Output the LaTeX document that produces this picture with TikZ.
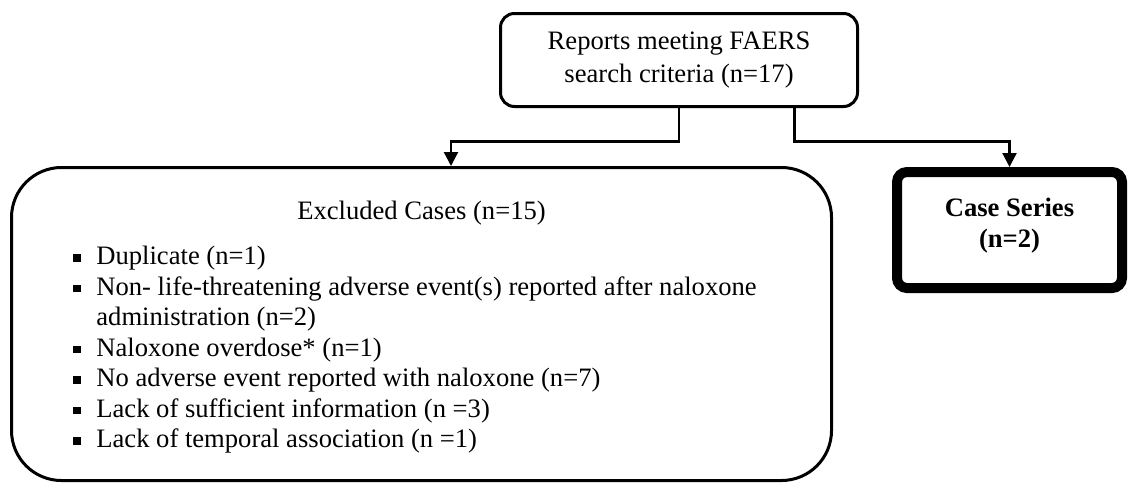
\documentclass[tikz,border=0pt]{standalone}
\usepackage{fontspec}
\setmainfont{Liberation Serif}
\usetikzlibrary{arrows.meta, positioning}

\newcommand{\sqitem}{\makebox[11.5pt][l]{\raisebox{1.6pt}{\rule{3.8pt}{3.8pt}}}}

\begin{document}
\begin{tikzpicture}[x=0.5pt,y=-0.5pt,>={Triangle[width=7pt,length=7pt]},
      every node/.style={font=\fontsize{13.3}{15.25}\selectfont},
      box/.style={draw,line width=1.5pt,rounded corners=7pt,align=center},
      link/.style={->,line width=1.1pt}]
      \useasboundingbox (0,0) rectangle (1128,483);
      \node[box, minimum width=178.5pt, minimum height=46.5pt] (reports) at (679,60)
        {Reports meeting FAERS\\[1pt]search criteria (n=17)};
      \node[box, rounded corners=25pt, minimum width=410pt, minimum height=156.5pt] (excl) at (421.5,324) {};
      \node (excltitle) at (421.5,213) {Excluded Cases (n=15)};
      \node[anchor=north west, inner sep=0pt, align=left] (excllist) at (73,246)
        {\sqitem Duplicate (n=1)\\
         \sqitem Non- life-threatening adverse event(s) reported after naloxone\\
         \hspace*{11.5pt}administration (n=2)\\
         \sqitem Naloxone overdose* (n=1)\\
         \sqitem No adverse event reported with naloxone (n=7)\\
         \sqitem Lack of sufficient information (n =3)\\
         \sqitem Lack of temporal association (n =1)};
      \node[box, line width=5pt, rounded corners=5pt, minimum width=112.5pt, minimum height=58pt,
        font=\fontsize{13.3}{15.25}\selectfont\bfseries] (series) at (1009.5,230)
        {Case Series\\(n=2)\\[-8pt]};
      \draw[link] (reports.south) -- ++(0,33.5) -| ([xshift=14.75pt]excl.north);
      \draw[link] ([xshift=57.75pt]reports.south) -- ++(0,33.5) -| (series.north);
    \end{tikzpicture}
\end{document}
